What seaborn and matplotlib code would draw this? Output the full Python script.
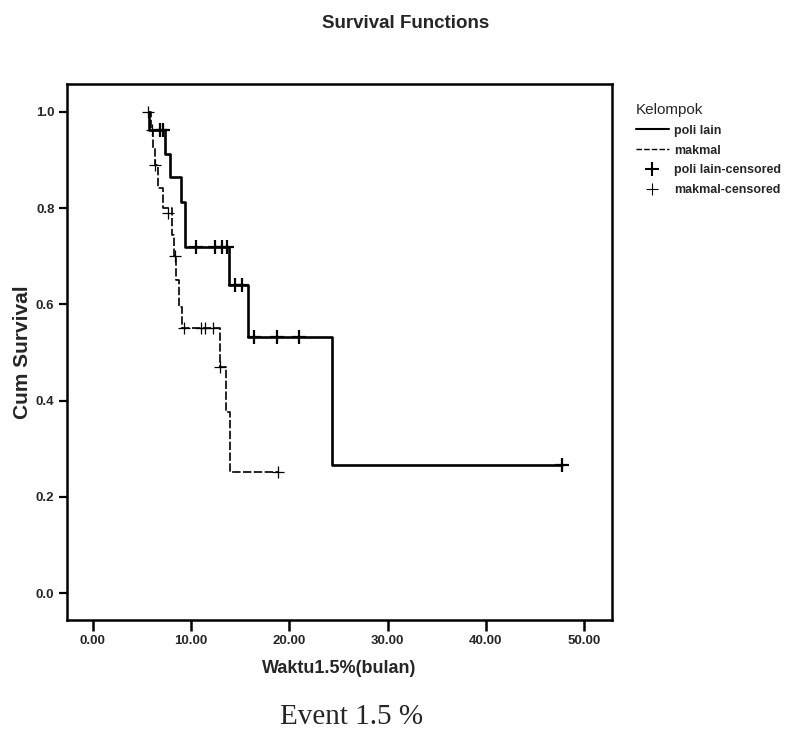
import matplotlib
matplotlib.use("Agg")
import matplotlib.pyplot as plt
import seaborn as sns
import pandas as pd
from matplotlib.lines import Line2D

# ---- data ----
groups = ["poli lain", "makmal"]

poli_time = [5.7, 5.7, 7.3, 7.8, 9.0, 9.4, 13.9, 15.8, 24.3, 47.8]
poli_surv = [1.0, 0.963, 0.913, 0.865, 0.813, 0.72, 0.64, 0.532, 0.266, 0.266]
poli_cens_time = [6.8, 7.1, 10.5, 12.4, 13.1, 13.7, 14.5, 15.2, 16.4, 18.7, 21.0, 47.8]
poli_cens_surv = [0.963, 0.963, 0.72, 0.72, 0.72, 0.72, 0.64, 0.64, 0.532, 0.532, 0.532, 0.266]

mak_time = [5.6, 5.9, 6.1, 6.3, 6.6, 7.1, 8.0, 8.3, 8.5, 8.8, 9.1, 12.9, 13.5, 14.0, 18.8]
mak_surv = [1.0, 0.963, 0.926, 0.89, 0.842, 0.80, 0.744, 0.70, 0.65, 0.595, 0.551, 0.47, 0.376, 0.252, 0.252]
mak_cens_time = [5.6, 6.0, 6.3, 7.6, 8.4, 9.3, 11.0, 11.4, 12.2, 12.9, 18.8]
mak_cens_surv = [1.0, 0.963, 0.89, 0.79, 0.70, 0.551, 0.551, 0.551, 0.551, 0.47, 0.252]

x_ticks = [0, 10, 20, 30, 40, 50]
x_ticklabels = ["0.00", "10.00", "20.00", "30.00", "40.00", "50.00"]
y_ticks = [0.0, 0.2, 0.4, 0.6, 0.8, 1.0]
y_ticklabels = ["0.0", "0.2", "0.4", "0.6", "0.8", "1.0"]

title = "Survival Functions"
xlabel = "Waktu1.5%(bulan)"
ylabel = "Cum Survival"
legend_title = "Kelompok"
legend_labels = ["poli lain", "makmal", "poli lain-censored", "makmal-censored"]
caption = "Event 1.5 %"

# ---- build frames ----
poli_df = pd.DataFrame({"t": poli_time, "s": poli_surv})
mak_df = pd.DataFrame({"t": mak_time, "s": mak_surv})
poli_c = pd.DataFrame({"t": poli_cens_time, "s": poli_cens_surv})
mak_c = pd.DataFrame({"t": mak_cens_time, "s": mak_cens_surv})

sns.set_style("ticks")
plt.rcParams["font.family"] = ["Liberation Sans", "DejaVu Sans"]

fig = plt.figure(figsize=(7.9, 7.33), dpi=100)
ax = fig.add_axes([67 / 790, 1 - 620 / 733, (612 - 67) / 790, (620 - 84) / 733])

sns.lineplot(data=poli_df, x="t", y="s", drawstyle="steps-post", estimator=None,
             sort=False, color="black", linewidth=1.9, ax=ax)
sns.lineplot(data=mak_df, x="t", y="s", drawstyle="steps-post", estimator=None,
             sort=False, color="black", linewidth=1.2, ax=ax,
             linestyle=(0, (5, 1.5)))
sns.scatterplot(data=poli_c, x="t", y="s", marker="+", s=110, color="black",
                linewidth=1.6, ax=ax)
sns.scatterplot(data=mak_c, x="t", y="s", marker="+", s=70, color="black",
                linewidth=0.9, ax=ax)

ax.set_xlim(-2.64, 52.85)
ax.set_ylim(-0.056, 1.058)
ax.set_xticks(x_ticks)
ax.set_xticklabels(x_ticklabels, fontsize=9.5, fontweight="bold")
ax.set_yticks(y_ticks)
ax.set_yticklabels(y_ticklabels, fontsize=9.5, fontweight="bold")
ax.tick_params(axis="x", direction="out", length=8, width=1.8, color="black", pad=3)
ax.tick_params(axis="y", direction="out", length=6, width=1.6, color="black", pad=3)
for sp in ax.spines.values():
    sp.set_linewidth(1.8)
    sp.set_color("black")
    sp.set_visible(True)

ax.set_xlabel(xlabel, fontsize=13, fontweight="bold", labelpad=9)
ax.set_ylabel(ylabel, fontsize=15, fontweight="bold", labelpad=3)

fig.text(406 / 790, 1 - 23 / 733, title, ha="center", va="center",
         fontsize=13.5, fontweight="bold")
fig.text(352 / 790, 1 - 717 / 733, caption, ha="center", va="center",
         fontsize=21, family=["Liberation Serif", "DejaVu Serif"])

handles = [
    Line2D([], [], color="black", linewidth=1.5),
    Line2D([], [], color="black", linewidth=1.0, linestyle=(0, (4, 1.5))),
    Line2D([], [], color="black", marker="+", linestyle="none", markersize=10, markeredgewidth=1.5),
    Line2D([], [], color="black", marker="+", linestyle="none", markersize=8, markeredgewidth=0.8),
]
leg = fig.legend(handles, legend_labels, title=legend_title, loc="upper left",
                 bbox_to_anchor=(636 / 790, 1 - 103 / 733), frameon=False,
                 prop={"size": 9, "weight": "bold"}, title_fontsize=11,
                 handlelength=2.6, handletextpad=0.45, labelspacing=0.62,
                 borderaxespad=0, borderpad=0)
leg._legend_box.align = "left"

fig.savefig("out.png", dpi=100)
